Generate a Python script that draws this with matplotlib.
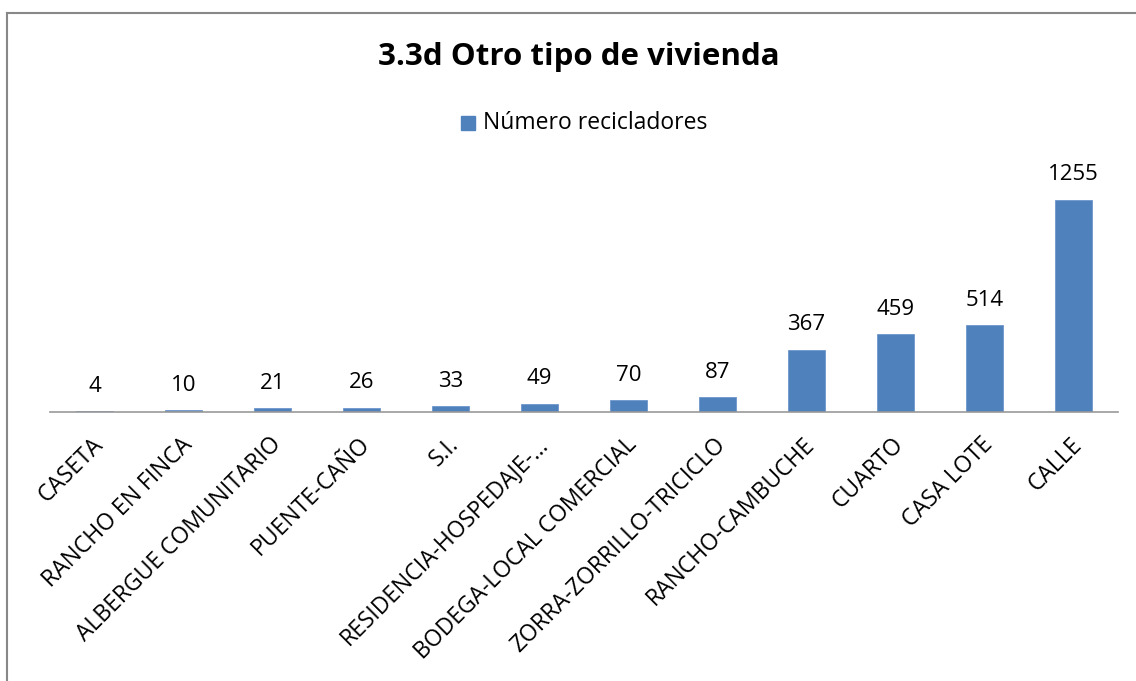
import matplotlib.pyplot as plt
from matplotlib.lines import Line2D
from matplotlib.patches import Rectangle
from matplotlib.transforms import ScaledTranslation

categorias = ['CASETA', 'RANCHO EN FINCA', 'ALBERGUE COMUNITARIO', 'PUENTE-CAÑO', 'S.I.',
              'RESIDENCIA-HOSPEDAJE-…', 'BODEGA-LOCAL COMERCIAL', 'ZORRA-ZORRILLO-TRICICLO',
              'RANCHO-CAMBUCHE', 'CUARTO', 'CASA LOTE', 'CALLE']
recicladores = [4, 10, 21, 26, 33, 49, 70, 87, 367, 459, 514, 1255]

AZUL = '#4F81BD'
W, H = 1136, 681
FUENTE = ['Open Sans', 'DejaVu Sans']
plt.rcParams['font.family'] = FUENTE

fig = plt.figure(figsize=(W / 100, H / 100), dpi=100)

# marco del grafico (solo se ven borde superior e izquierdo)
fig.add_artist(Line2D([7 / W, 1.0], [1 - 13 / H, 1 - 13 / H], color='#888888', lw=1.5))
fig.add_artist(Line2D([7 / W, 7 / W], [0, 1 - 13 / H], color='#888888', lw=1.5))

ax = fig.add_axes([50 / W, 1 - 412 / H, 1068 / W, 262 / H])
x = range(len(categorias))
ax.bar(x, recicladores, width=0.41, color=AZUL, edgecolor='#6f97cc', linewidth=0.6)
ax.set_xlim(-0.5, len(categorias) - 0.5)
ax.set_ylim(0, 1550)

for i, v in zip(x, recicladores):
    ax.annotate(str(v), (i, v), xytext=(0, 25), textcoords='offset pixels',
                ha='center', va='center', fontsize=16)

for s in ['top', 'right', 'left']:
    ax.spines[s].set_visible(False)
ax.spines['bottom'].set_color('#999999')
ax.spines['bottom'].set_linewidth(1.2)
ax.set_yticks([])
ax.set_xticks(list(x))
ax.set_xticklabels(categorias, rotation=45, ha='right', va='center',
                   rotation_mode='anchor', fontsize=16.5)
ax.tick_params(axis='x', length=0, pad=21)
desplaza = ScaledTranslation(5 / 100, 0, fig.dpi_scale_trans)
for lbl in ax.get_xticklabels():
    lbl.set_transform(lbl.get_transform() + desplaza)

fig.text(579 / W, 1 - 57 / H, '3.3d Otro tipo de vivienda', ha='center', va='center',
         fontsize=22.5, fontweight='bold')

fig.add_artist(Rectangle((461 / W, 1 - 130 / H), 14 / W, 14 / H, color=AZUL))
fig.text(483 / W, 1 - 123 / H, 'Número recicladores', ha='left', va='center', fontsize=16.5)

fig.savefig('out.png', dpi=100)
